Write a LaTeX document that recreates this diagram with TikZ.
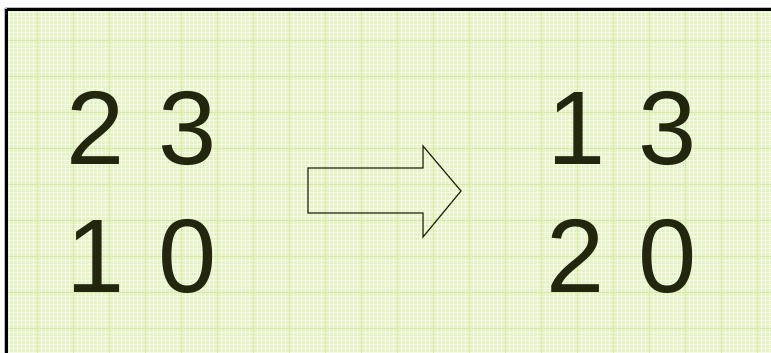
\documentclass[tikz,border=0pt]{standalone}
\usepackage{fontspec}
\setmainfont{Liberation Sans}
\usepackage{xcolor}
\usetikzlibrary{arrows.meta,positioning}

\definecolor{paper}{rgb}{0.90,0.95,0.78}
\definecolor{gridfine}{rgb}{0.96,0.98,0.90}
\definecolor{gridcoarse}{rgb}{0.84,0.92,0.64}
\definecolor{ink}{rgb}{0.13,0.15,0.05}

\begin{document}
\begin{tikzpicture}[x=0.75pt,y=-0.75pt,
    digit/.style={anchor=base,inner sep=0pt,text=ink,font=\fontsize{78.5}{80}\selectfont}]
\useasboundingbox (0,0) rectangle (771,353);
\begin{scope}
    \clip (0,0) rectangle (771,353);
    % background sheet
    \fill[paper] (7,10) rectangle (771,353);
    \foreach \x in {9,13,...,771} {
        \draw[gridfine, line width=0.6pt] (\x,10) -- (\x,353);
    }
    \foreach \y in {12,16,...,353} {
        \draw[gridfine, line width=0.6pt] (7,\y) -- (771,\y);
    }
    \foreach \x in {37,73,...,771} {
        \draw[gridcoarse, line width=0.5pt] (\x,10) -- (\x,353);
    }
    \foreach \y in {40,76,...,353} {
        \draw[gridcoarse, line width=0.5pt] (7,\y) -- (771,\y);
    }
    % frame
    \draw[black!25, line width=1pt] (5,8) -- (771,8);
    \draw[black!25, line width=1pt] (5,8) -- (5,353);
    \draw[black, line width=1.6pt] (6.5,9.5) -- (771,9.5);
    \draw[black, line width=1.6pt] (6.5,9.5) -- (6.5,353);
\end{scope}

% digits before and after
\foreach \n/\x/\y/\d in {la/96/164/2, lb/188/164/3, lc/96/292/1, ld/188/292/0,
                         ra/577/164/1, rb/668/164/3, rc/576/292/2, rd/668/292/0} {
    \node[digit] (\n) at (\x,\y) {\d};
}

% block arrow
\draw[ink, line width=0.9pt, line join=miter]
    (308,168) -- (423,168) -- (423,146) -- (461,191) -- (423,237)
    -- (423,213) -- (308,213) -- cycle;
\end{tikzpicture}
\end{document}
